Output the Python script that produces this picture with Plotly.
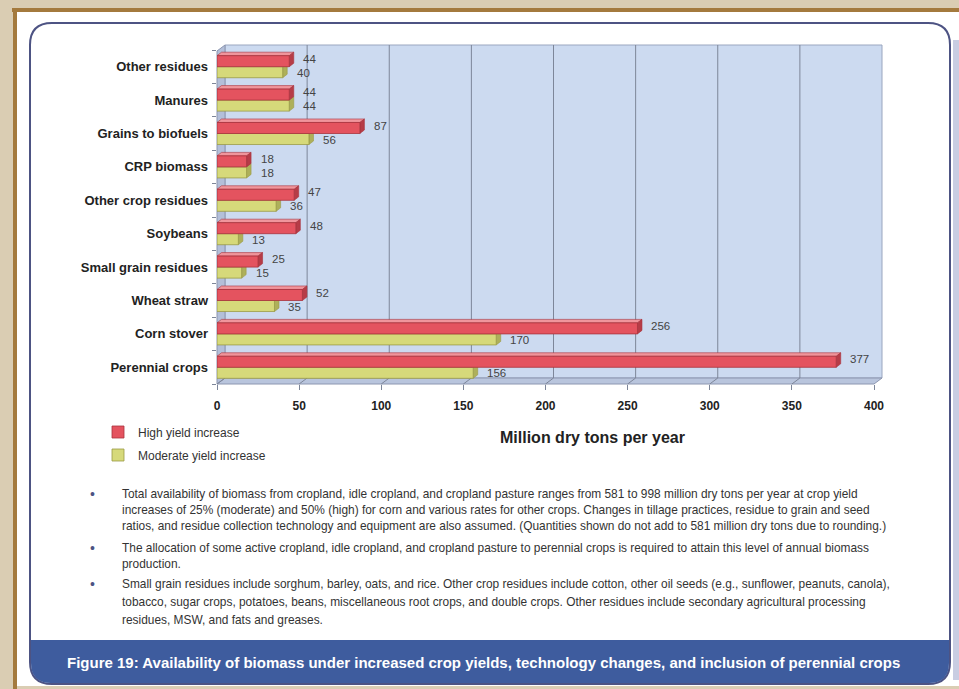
import plotly.graph_objects as go

categories = ["Other residues", "Manures", "Grains to biofuels", "CRP biomass",
              "Other crop residues", "Soybeans", "Small grain residues",
              "Wheat straw", "Corn stover", "Perennial crops"]
high_yield = [44, 44, 87, 18, 47, 48, 25, 52, 256, 377]
moderate_yield = [40, 44, 56, 18, 36, 13, 15, 35, 170, 156]
x_ticks = [0, 50, 100, 150, 200, 250, 300, 350, 400]

notes = [
    "Total availability of biomass from cropland, idle cropland, and cropland pasture ranges from 581 to 998 million dry tons per year at crop yield",
    "increases of 25% (moderate) and 50% (high) for corn and various rates for other crops. Changes in tillage practices, residue to grain and seed",
    "ratios, and residue collection technology and equipment are also assumed. (Quantities shown do not add to 581 million dry tons due to rounding.)",
    "The allocation of some active cropland, idle cropland, and cropland pasture to perennial crops is required to attain this level of annual biomass",
    "production.",
    "Small grain residues include sorghum, barley, oats, and rice. Other crop residues include cotton, other oil seeds (e.g., sunflower, peanuts, canola),",
    "tobacco, sugar crops, potatoes, beans, miscellaneous root crops, and double crops. Other residues include secondary agricultural processing",
    "residues, MSW, and fats and greases.",
]
note_rows = [494, 510, 526, 548, 564, 584, 602, 620]
bullet_rows = [494, 548, 584]
caption = "Figure 19: Availability of biomass under increased crop yields, technology changes, and inclusion of perennial crops"

W, H = 959, 689
ML, MR, MT, MB = 217, 85, 50, 305
PW, PH = W - ML - MR, H - MT - MB


def px(x):
    return (x - ML) / PW


def py(y):
    return 1 - (y - MT) / PH


RED = "#e4535f"
RED_EDGE = "#a8323c"
RED_TOP = "#f0959c"
RED_SIDE = "#b63c47"
YEL = "#d6d97a"
YEL_EDGE = "#9a9a45"
YEL_SIDE = "#aeb05a"
DEPTH = 8
BARGAP = 0.34
HALF = (1 - BARGAP) / 2          # bar thickness in category units
DX = 4.5 / (PW / 400)            # 3D depth of bars, in x data units
DY = 3.5 / (PH / len(categories))  # 3D depth of bars, in category units

order = categories[::-1]  # bottom-to-top

fig = go.Figure()
fig.add_trace(go.Bar(y=categories, x=moderate_yield, orientation="h", name="Moderate yield increase",
                     marker=dict(color=YEL, line=dict(color=YEL_EDGE, width=0.8)), legend="legend2"))
fig.add_trace(go.Bar(y=categories, x=high_yield, orientation="h", name="High yield increase",
                     marker=dict(color=RED, line=dict(color=RED_EDGE, width=0.8)), legend="legend"))

shapes = []
# page background pieces
shapes.append(dict(type="rect", xref="paper", yref="paper", x0=px(17), x1=px(W + 5), y0=py(12), y1=py(686),
                   fillcolor="white", line=dict(width=0), layer="below"))
shapes.append(dict(type="rect", xref="paper", yref="paper", x0=px(12), x1=px(W + 5), y0=py(8), y1=py(12),
                   fillcolor="#a47a3e", line=dict(width=0), layer="below"))
shapes.append(dict(type="rect", xref="paper", yref="paper", x0=px(13), x1=px(17), y0=py(8), y1=py(H + 5),
                   fillcolor="#a47a3e", line=dict(width=0), layer="below"))
shapes.append(dict(type="rect", xref="paper", yref="paper", x0=px(953), x1=px(W + 5), y0=py(40), y1=py(680),
                   fillcolor="#c9cde2", line=dict(width=0), layer="below"))


def rounded_path(x0, y0, x1, y1, r):
    X = lambda v: px(v)
    Y = lambda v: py(v)
    return (f"M {X(x0 + r)},{Y(y0)} L {X(x1 - r)},{Y(y0)} Q {X(x1)},{Y(y0)} {X(x1)},{Y(y0 + r)} "
            f"L {X(x1)},{Y(y1 - r)} Q {X(x1)},{Y(y1)} {X(x1 - r)},{Y(y1)} "
            f"L {X(x0 + r)},{Y(y1)} Q {X(x0)},{Y(y1)} {X(x0)},{Y(y1 - r)} "
            f"L {X(x0)},{Y(y0 + r)} Q {X(x0)},{Y(y0)} {X(x0 + r)},{Y(y0)} Z")


def bottom_round_path(x0, y0, x1, y1, r):
    X = lambda v: px(v)
    Y = lambda v: py(v)
    return (f"M {X(x0)},{Y(y0)} L {X(x1)},{Y(y0)} L {X(x1)},{Y(y1 - r)} Q {X(x1)},{Y(y1)} {X(x1 - r)},{Y(y1)} "
            f"L {X(x0 + r)},{Y(y1)} Q {X(x0)},{Y(y1)} {X(x0)},{Y(y1 - r)} Z")


shapes.append(dict(type="path", xref="paper", yref="paper", path=rounded_path(30, 23, 950, 684, 22),
                   fillcolor="white", line=dict(color="#4d5383", width=2), layer="below"))
shapes.append(dict(type="path", xref="paper", yref="paper", path=bottom_round_path(31, 640, 949, 683, 20),
                   fillcolor="#3e5c9e", line=dict(width=0), layer="below"))

# 3D plot box: back wall, floor, left wall
shapes.append(dict(type="rect", xref="paper", yref="paper", x0=px(ML + DEPTH), x1=px(ML + PW + DEPTH),
                   y0=py(MT + PH - DEPTH + 2), y1=py(MT - 5),
                   fillcolor="#ccdaf0", line=dict(color="#9aa6bf", width=1), layer="below"))
shapes.append(dict(type="path", xref="paper", yref="paper",
                   path=f"M {px(ML)},{py(MT + PH)} L {px(ML + DEPTH)},{py(MT + PH - DEPTH + 2)} L {px(ML + PW + DEPTH)},{py(MT + PH - DEPTH + 2)} L {px(ML + PW)},{py(MT + PH)} Z",
                   fillcolor="#b9c5dd", line=dict(color="#8c96b0", width=1), layer="below"))
shapes.append(dict(type="path", xref="paper", yref="paper",
                   path=f"M {px(ML)},{py(MT + PH)} L {px(ML)},{py(MT + 1)} L {px(ML + DEPTH)},{py(MT - 5)} L {px(ML + DEPTH)},{py(MT + PH - DEPTH + 2)} Z",
                   fillcolor="#b3bfd9", line=dict(color="#8c96b0", width=1), layer="below"))

# gridlines on back wall, offset by depth
for t in x_ticks[1:-1]:
    shapes.append(dict(type="line", xref="x", yref="paper", xsizemode="pixel", xanchor=t, x0=DEPTH, x1=DEPTH,
                       y0=py(MT + PH - DEPTH + 2), y1=py(MT - 5), line=dict(color="#7d8699", width=1), layer="below"))
for t in x_ticks:
    shapes.append(dict(type="line", xref="x", yref="paper", xsizemode="pixel", xanchor=t, x0=0, x1=DEPTH,
                       y0=0, y1=py(MT + PH - DEPTH + 2), line=dict(color="#7d8699", width=1), layer="below"))

# 3D faces of the bars, derived from the data values (drawn below the bar traces)
for c, hv, mv in zip(categories, high_yield, moderate_yield):
    i = order.index(c)
    rt, rb = i + HALF, i
    yt, yb = i, i - HALF
    # moderate end cap
    shapes.append(dict(type="path", xref="x", yref="y", layer="below",
                       path=f"M {mv},{yb} L {mv + DX},{yb + DY} L {mv + DX},{yt + DY} L {mv},{yt} Z",
                       fillcolor=YEL_SIDE, line=dict(color=YEL_EDGE, width=0.6)))
    # high top face
    shapes.append(dict(type="path", xref="x", yref="y", layer="below",
                       path=f"M 0,{rt} L {hv},{rt} L {hv + DX},{rt + DY} L {DX},{rt + DY} Z",
                       fillcolor=RED_TOP, line=dict(color=RED_EDGE, width=0.6)))
    # high end cap
    shapes.append(dict(type="path", xref="x", yref="y", layer="below",
                       path=f"M {hv},{rb} L {hv + DX},{rb + DY} L {hv + DX},{rt + DY} L {hv},{rt} Z",
                       fillcolor=RED_SIDE, line=dict(color=RED_EDGE, width=0.6)))

annotations = []
# value labels
for c, v in zip(categories, high_yield):
    annotations.append(dict(x=v, y=c, xref="x", yref="y", text=str(v), showarrow=False, xanchor="left",
                            xshift=12, yshift=8, font=dict(size=11.5, color="#444444", family="Arial, Liberation Sans")))
for c, v in zip(categories, moderate_yield):
    annotations.append(dict(x=v, y=c, xref="x", yref="y", text=str(v), showarrow=False, xanchor="left",
                            xshift=12, yshift=-6, font=dict(size=11.5, color="#444444", family="Arial, Liberation Sans")))

annotations.append(dict(x=px(592), y=py(437), xref="paper", yref="paper", text="<b>Million dry tons per year</b>",
                        showarrow=False, xanchor="center", yanchor="middle",
                        font=dict(size=16, color="#222222", family="Arial, Liberation Sans")))

for txt, row in zip(notes, note_rows):
    annotations.append(dict(x=px(120), y=py(row), xref="paper", yref="paper", text=txt, showarrow=False,
                            xanchor="left", yanchor="middle",
                            font=dict(size=11.9, color="#333333", family="Arial, Liberation Sans")))
for row in bullet_rows:
    annotations.append(dict(x=px(92), y=py(row), xref="paper", yref="paper", text="•", showarrow=False,
                            xanchor="center", yanchor="middle",
                            font=dict(size=14, color="#4d5383", family="Arial, Liberation Sans")))

annotations.append(dict(x=px(483), y=py(662), xref="paper", yref="paper", text="<b>" + caption + "</b>",
                        showarrow=False, xanchor="center", yanchor="middle",
                        font=dict(size=15, color="white", family="Liberation Sans Narrow, Arial Narrow, Arial")))

fig.update_layout(
    width=W, height=H,
    margin=dict(l=ML, r=MR, t=MT, b=MB, pad=0),
    paper_bgcolor="#dacdb3",
    plot_bgcolor="rgba(0,0,0,0)",
    barmode="group", bargap=BARGAP, bargroupgap=0.0,
    showlegend=True,
    legend=dict(x=px(98), y=py(432), xanchor="left", yanchor="middle", bgcolor="rgba(0,0,0,0)",
                font=dict(size=12, color="#333333", family="Arial, Liberation Sans")),
    legend2=dict(x=px(98), y=py(455), xanchor="left", yanchor="middle", bgcolor="rgba(0,0,0,0)",
                 font=dict(size=12, color="#333333", family="Arial, Liberation Sans")),
    xaxis=dict(range=[0, 400], tickvals=x_ticks, showgrid=False, zeroline=False, showline=False,
               ticks="outside", ticklen=5, tickcolor="#7d8699", ticklabelstandoff=6,
               tickfont=dict(size=12, color="#222222", family="Arial, Liberation Sans")),
    yaxis=dict(categoryorder="array", categoryarray=order, showgrid=False, zeroline=False,
               showline=False, ticks="outside", tickson="boundaries", ticklen=4, tickcolor="#7d8699",
               ticklabelstandoff=8,
               tickfont=dict(size=13, color="#222222", family="Arial, Liberation Sans")),
    shapes=shapes, annotations=annotations,
)
fig.update_yaxes(ticktext=["<b>" + c + "</b>" for c in order], tickvals=order)
fig.update_xaxes(ticktext=["<b>" + str(t) + "</b>" for t in x_ticks])

fig.write_html("out.html")
